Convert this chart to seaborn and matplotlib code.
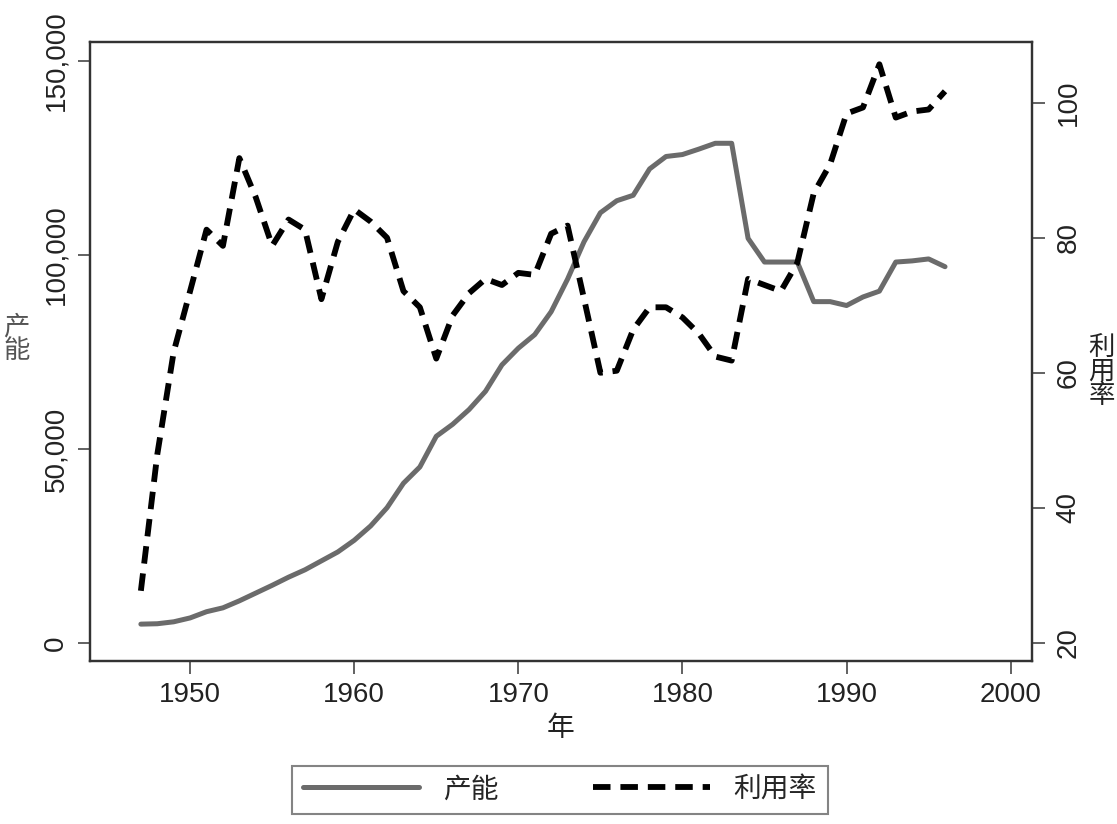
import pandas as pd
import numpy as np
import matplotlib
matplotlib.use("Agg")
import matplotlib.pyplot as plt
import seaborn as sns

# Years and the two series
years = list(range(1947, 1997))

capacity = [4900, 5000, 5500, 6500, 8100, 9100, 10900, 12900, 14900, 17000,
            18900, 21200, 23500, 26500, 30200, 34900, 41200, 45400, 53300, 56400,
            60200, 64900, 71700, 76000, 79500, 85400, 93800, 103400, 110900, 114000,
            115400, 122200, 125400, 125900, 127300, 128800, 128800, 104300, 98200, 98200,
            98200, 88000, 88000, 87000, 89200, 90700, 98200, 98500, 99000, 97000]

utilization = [27.7, 47.9, 63.1, 72.1, 81.2, 78.8, 91.8, 86.0, 78.8, 82.7,
               81.2, 70.9, 79.4, 84.2, 82.4, 80.0, 72.1, 69.7, 62.1, 68.5,
               71.8, 73.9, 73.0, 74.8, 74.5, 80.6, 81.8, 71.0, 60.0, 60.3,
               66.4, 69.7, 69.7, 68.2, 65.8, 62.4, 61.8, 73.9, 73.0, 72.1,
               76.3, 86.6, 90.9, 98.4, 99.3, 105.7, 97.8, 98.7, 99.0, 101.7]

x_ticks = [1950, 1960, 1970, 1980, 1990, 2000]
left_ticks = [0, 50000, 100000, 150000]
right_ticks = [20, 40, 60, 80, 100]

df = pd.DataFrame({"年": years, "产能": capacity, "利用率": utilization})

sns.set_style("ticks")
plt.rcParams['font.family'] = ['Liberation Sans', 'Noto Sans CJK SC', 'DejaVu Sans']
plt.rcParams['font.size'] = 20

fig = plt.figure(figsize=(11.17, 8.24), dpi=100)
ax = fig.add_axes([90 / 1117, 1 - 661 / 824, 942 / 1117, 619 / 824])
ax2 = ax.twinx()

sns.lineplot(data=df, x="年", y="产能", ax=ax, color="#6b6b6b", linewidth=3.6,
             label="产能", legend=False)
sns.lineplot(data=df, x="年", y="利用率", ax=ax2, color="black", linewidth=4.2,
             label="利用率", legend=False)
ax2.lines[0].set_dashes((3.0, 1.7))
ax2.lines[0].set_dash_capstyle("butt")

ax.set_xlim(1943.9, 2001.3)
ax.set_ylim(-4600, 154900)
ax2.set_ylim(17.3, 109.0)

ax.set_xticks(x_ticks)
ax.set_yticks(left_ticks)
ax.set_yticklabels([f"{v:,}" for v in left_ticks], rotation=90, va="center")
ax2.set_yticks(right_ticks)
ax2.set_yticklabels([str(v) for v in right_ticks], rotation=90, va="center")

for a in (ax, ax2):
    for s in a.spines.values():
        s.set_color("#333333")
        s.set_linewidth(1.6)
    a.tick_params(length=9, width=1.3, color="#555555", labelsize=20, pad=6,
                  labelcolor="#222222")
ax2.tick_params(axis="y", pad=8)

ax.set_xlabel("年", fontsize=20, labelpad=6, color="#222222")
ax.set_ylabel("产\n能", rotation=0, fontsize=19, linespacing=1.0, va="center",
              ha="center", color="#555555")
ax.yaxis.set_label_coords(-0.078, 0.52)
ax2.set_ylabel("利\n用\n率", rotation=0, fontsize=19, linespacing=1.0,
               va="center", ha="center", color="#222222")
ax2.yaxis.set_label_coords(1.074, 0.467)

handles = ax.lines[:1] + ax2.lines[:1]
leg = fig.legend(handles, ["产能", "利用率"], loc="center",
                 bbox_to_anchor=(0.501, 0.041), ncol=2, frameon=True,
                 fancybox=False, fontsize=20, handlelength=4.2,
                 handletextpad=0.85, columnspacing=3.4, borderpad=0.4)
leg.get_frame().set_edgecolor("#666666")
leg.get_frame().set_linewidth(1.5)

fig.savefig("out.png", dpi=100, facecolor="white")
